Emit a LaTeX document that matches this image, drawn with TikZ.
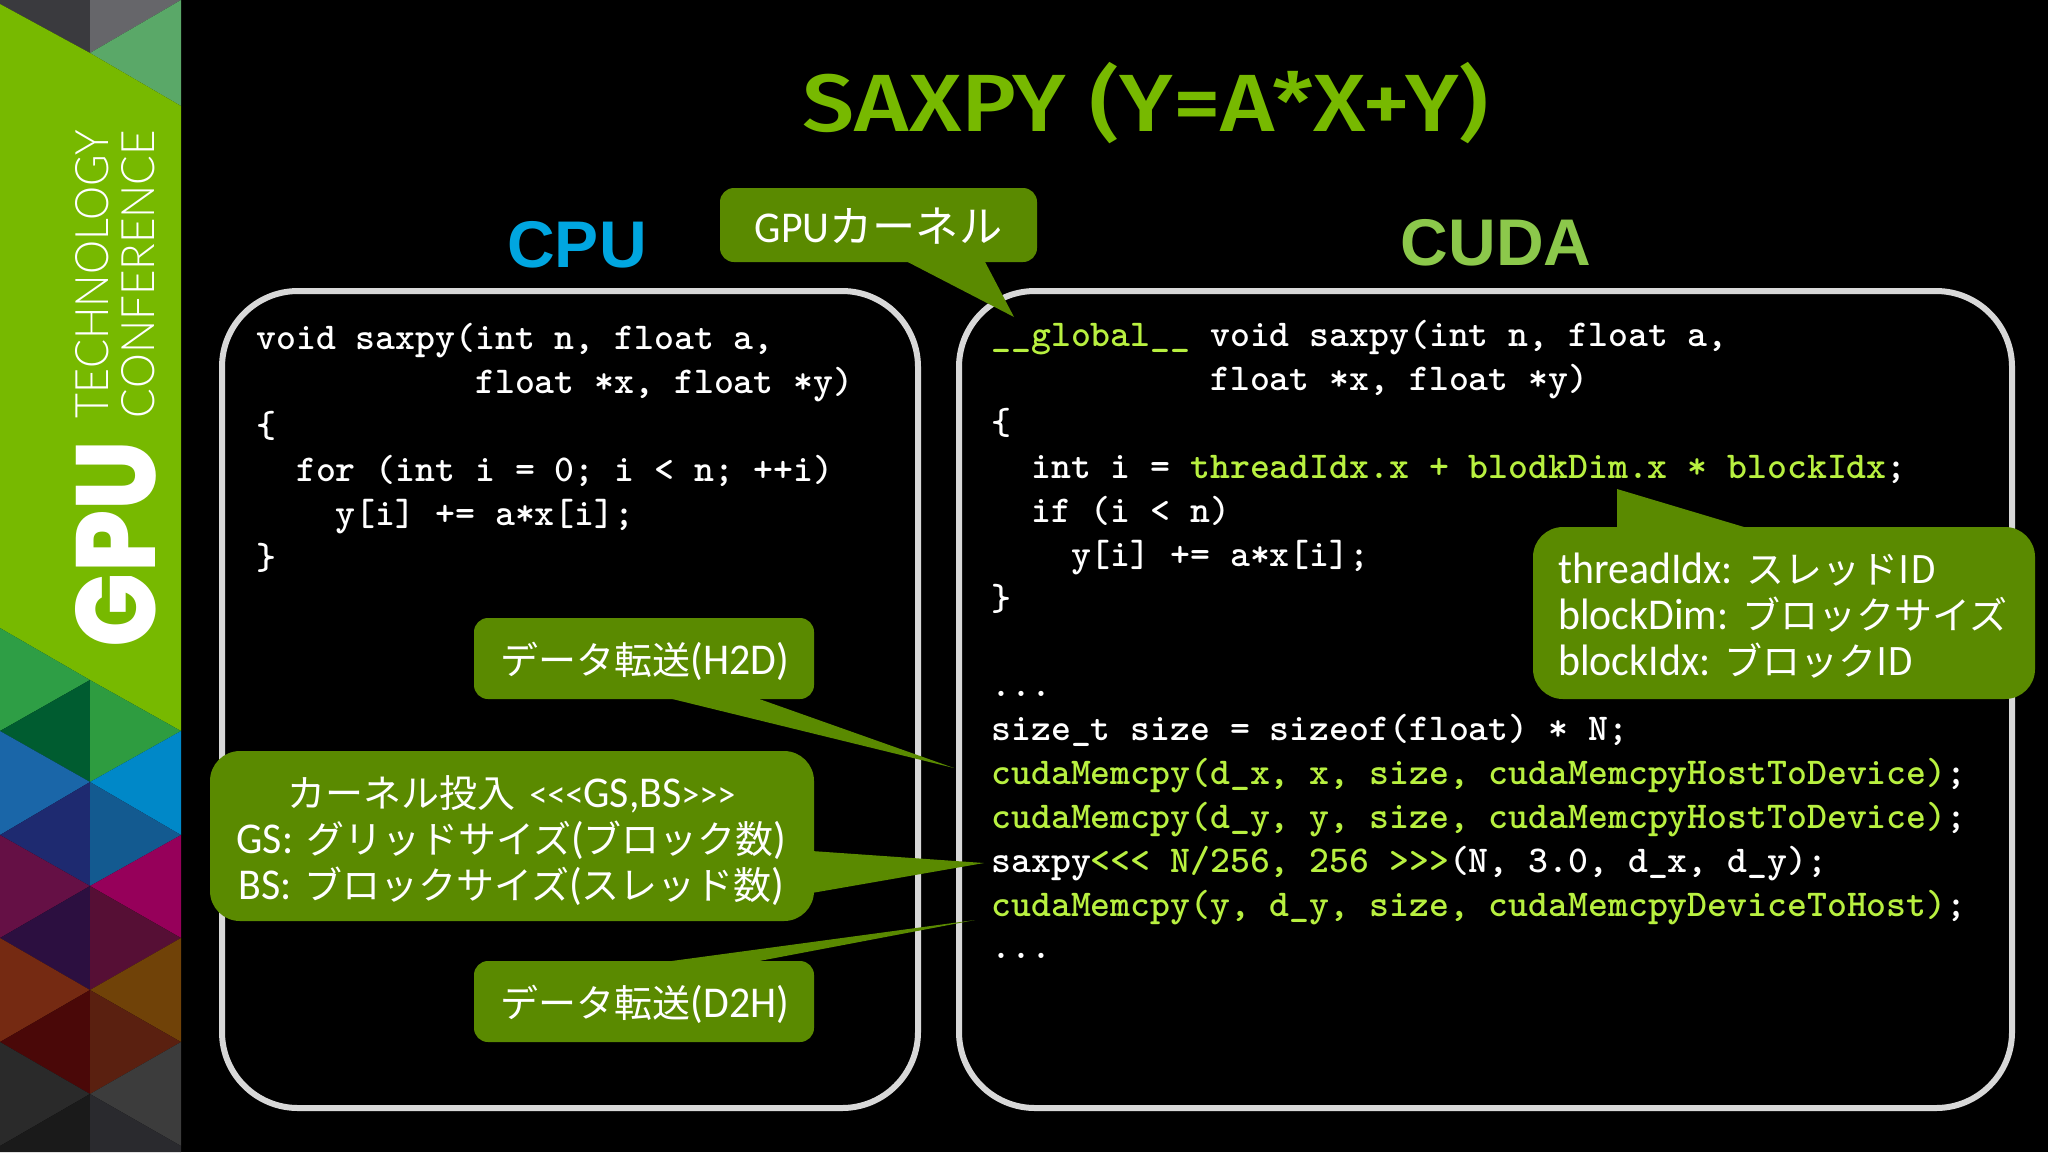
\documentclass[tikz,border=0pt]{standalone}
\usepackage{fontspec}
\setmainfont{Carlito}[FakeStretch=0.95]
\newfontfamily\cjk{Noto Sans CJK JP}
\newfontfamily\titlef{Fira Sans}[UprightFont=* Medium]
\newfontfamily\headf{Liberation Sans}
\newfontfamily\thinf{Lato}[UprightFont=* Light]
\newfontfamily\heavyf{Poppins}[UprightFont=* ExtraBold]
\newfontfamily\codef{Latin Modern Mono Light}
\newcommand{\J}[1]{{\cjk\fontsize{19pt}{23pt}\selectfont #1}}
\newcommand{\JJ}[1]{{\cjk\fontsize{21.6pt}{23pt}\selectfont #1}}
\definecolor{nvgreen}{HTML}{77B900}
\definecolor{callbg}{HTML}{5A8A00}
\definecolor{hl}{HTML}{B8F040}
\definecolor{cudagreen}{HTML}{8CC84B}
\definecolor{cpublue}{HTML}{00A6E0}
\definecolor{frame}{HTML}{D8D8D8}
\definecolor{a0}{HTML}{3A3A3E}
\definecolor{a1}{HTML}{66666A}
\definecolor{a2}{HTML}{5AA868}
\newcommand{\G}[1]{\textcolor{hl}{#1}}
\newcommand{\tria}[2]{\definecolor{tc}{HTML}{#2}\fill[tc] #1 -- cycle;}
\tikzset{
  codeline/.style={anchor=base west,inner sep=0pt,text=white,font=\codef\bfseries\fontsize{18.95pt}{22pt}\selectfont},
  panel/.style={draw=frame,line width=3pt,rounded corners=38pt},
  callbox/.style={fill=callbg,inner sep=0pt,rounded corners=7pt},
  calltext/.style={text=white,inner sep=0pt,font=\fontsize{22pt}{23pt}\selectfont,align=center},
  tail/.style={fill=callbg,draw=none}
}
\begin{document}
\begin{tikzpicture}[x=0.5pt,y=-0.5pt]
\useasboundingbox (0,0) rectangle (2048,1152);
\fill[black] (0,0) rectangle (2048,1152);
% sidebar
\fill[a0] (0,0) -- (90,0) -- (90,53) -- (0,4) -- cycle;
\fill[a1] (90,0) -- (181,0) -- (90,53) -- cycle;
\fill[a2] (90,53) -- (181,0) -- (181,106) -- cycle;
\fill[nvgreen] (0,4) -- (90,53) -- (181,106) -- (181,731) -- (90,680) -- (0,628) -- cycle;
\tria{(0,628) -- (90,680) -- (0,731)}{2E9E45}
\tria{(0,731) -- (90,680) -- (90,782)}{005C30}
\tria{(90,680) -- (181,731) -- (90,782)}{2E9C40}
\tria{(0,731) -- (90,782) -- (0,835)}{1A66A8}
\tria{(0,835) -- (90,782) -- (90,886)}{1E2A70}
\tria{(90,782) -- (181,731) -- (181,835)}{0088C8}
\tria{(90,782) -- (181,835) -- (90,886)}{135A90}
\tria{(0,835) -- (90,886) -- (0,938)}{651045}
\tria{(0,938) -- (90,886) -- (90,990)}{2C0F40}
\tria{(90,886) -- (181,835) -- (181,938)}{96005A}
\tria{(90,886) -- (181,938) -- (90,990)}{560F35}
\tria{(0,938) -- (90,990) -- (0,1042)}{752A12}
\tria{(0,1042) -- (90,990) -- (90,1094)}{4A0808}
\tria{(90,990) -- (181,938) -- (181,1042)}{704208}
\tria{(90,990) -- (181,1042) -- (90,1094)}{5A2010}
\tria{(0,1042) -- (90,1094) -- (0,1146)}{2A2A2A}
\tria{(0,1146) -- (90,1094) -- (90,1152) -- (0,1152)}{1A1A1A}
\tria{(90,1094) -- (181,1042) -- (181,1146)}{3C3C3C}
\tria{(90,1094) -- (181,1146) -- (181,1152) -- (90,1152)}{2A2A2E}
\node[rotate=90,inner sep=0pt,text=white] (gpu) at (116,544) {\resizebox{103pt}{40pt}{\heavyf GPU}};
\node[rotate=90,inner sep=0pt,text=white] (tech) at (92.5,274) {\resizebox{144pt}{16.5pt}{\thinf TECHNOLOGY}};
\node[rotate=90,inner sep=0pt,text=white] (conf) at (138.5,274) {\resizebox{144pt}{16.5pt}{\thinf CONFERENCE}};
% headings
\node[inner sep=0pt,text=nvgreen,anchor=base] (title) at (1146,131) {\resizebox{343pt}{34.6pt}{\titlef\fontsize{46pt}{50pt}\selectfont SAXPY (Y=A*X+Y)}};
\node[inner sep=0pt,text=cpublue,font=\headf\bfseries\fontsize{33pt}{40pt}\selectfont] (cpu) at (577,245) {CPU};
\node[inner sep=0pt,text=cudagreen,font=\headf\bfseries\fontsize{33pt}{40pt}\selectfont] (cuda) at (1496,243) {CUDA};
% panels
\draw[panel] (222,291) rectangle (918,1108);
\draw[panel] (959,291) rectangle (2012,1108);
% CPU code
\node[codeline] (p1) at (256,349) {void saxpy(int n, float a,};
\node[codeline] (p2) at (256,393) {~~~~~~~~~~~float *x, float *y)};
\node[codeline] (p3) at (256,437) {\{};
\node[codeline] (p4) at (256,481) {~~for (int i = 0; i < n; ++i)};
\node[codeline] (p5) at (256,525) {~~~~y[i] += a*x[i];};
\node[codeline] (p6) at (256,569) {\}};
% CUDA code
\node[codeline] (g1) at (991,346) {\G{\_\_global\_\_} void saxpy(int n, float a,};
\node[codeline] (g2) at (991,390) {~~~~~~~~~~~float *x, float *y)};
\node[codeline] (g3) at (991,434) {\{};
\node[codeline] (g4) at (991,478) {~~int i = \G{threadIdx.x + blodkDim.x * blockIdx};};
\node[codeline] (g5) at (991,522) {~~if (i < n)};
\node[codeline] (g6) at (991,566) {~~~~y[i] += a*x[i];};
\node[codeline] (g7) at (991,610) {\}};
\node[codeline] (g8) at (991,696) {...};
\node[codeline] (g9) at (991,740) {size\_t size = sizeof(float) * N;};
\node[codeline] (g10) at (991,784) {\G{cudaMemcpy(d\_x, x, size, cudaMemcpyHostToDevice)};};
\node[codeline] (g11) at (991,828) {\G{cudaMemcpy(d\_y, y, size, cudaMemcpyHostToDevice)};};
\node[codeline] (g12) at (991,872) {saxpy\G{<{}<{}< N/256, 256 >{}>{}>}(N, 3.0, d\_x, d\_y);};
\node[codeline] (g13) at (991,916) {\G{cudaMemcpy(y, d\_y, size, cudaMemcpyDeviceToHost)};};
\node[codeline] (g14) at (991,958) {...};
% callouts
\coordinate (tipkern) at (1014,317);
\fill[tail] (900,258) -- (983,258) -- (tipkern) -- cycle;
\node[callbox,minimum width=158.5pt,minimum height=37pt] (kern) at (878.5,225) {};
\node[calltext] (kerntext) at (878.5,226) {GPU\JJ{カーネル}};
\coordinate (tiph) at (954,768);
\fill[tail] (656,695) -- (748,695) -- (tiph) -- cycle;
\node[callbox,minimum width=170pt,minimum height=40.5pt] (h2d) at (644,658.5) {};
\node[calltext] (h2dtext) at (645,661) {\J{データ転送}(H2D)};
\coordinate (tipb) at (984,863);
\fill[tail] (806,850.6) -- (806,894) -- (tipb) -- cycle;
\node[callbox,rounded corners=15pt,minimum width=302pt,minimum height=85pt] (gs) at (512,836) {};
\node[calltext] (gstext) at (511.5,840.5) {\J{カーネル投入}\hspace{7pt}{\fontsize{19pt}{23pt}\selectfont <{}<{}<}GS,BS{\fontsize{19pt}{23pt}\selectfont >{}>{}>}\\GS:\hspace{6.5pt}\J{グリッドサイズ}(\J{ブロック数})\\BS:\hspace{6.5pt}\J{ブロックサイズ}(\J{スレッド数})};
\coordinate (tipd) at (975,920);
\fill[tail] (642,965) -- (738,965) -- (tipd) -- cycle;
\node[callbox,minimum width=170pt,minimum height=40.5pt] (d2h) at (644,1001.5) {};
\node[calltext] (d2htext) at (645,1004) {\J{データ転送}(D2H)};
\coordinate (tipt) at (1617,489);
\fill[tail] (1617,530) -- (1754,530) -- (tipt) -- cycle;
\node[callbox,rounded corners=15pt,minimum width=251pt,minimum height=86pt] (th) at (1784,613) {};
\node[calltext,anchor=west,align=left] (thtext) at (1558,615.5) {threadIdx:\hspace{7pt}\J{スレッドID}\\blockDim:\hspace{7pt}\J{ブロックサイズ}\\blockIdx:\hspace{7pt}\J{ブロックID}};
\end{tikzpicture}
\end{document}
